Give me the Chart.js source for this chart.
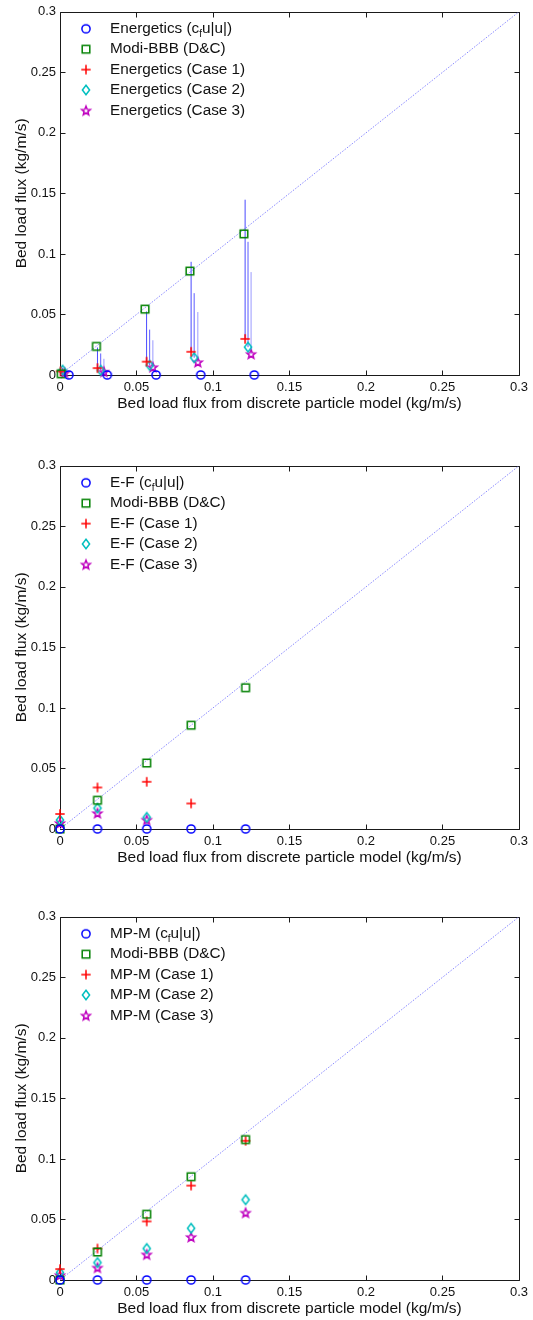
<!DOCTYPE html>
<html>
<head>
<meta charset="utf-8">
<script src="https://cdn.jsdelivr.net/npm/chart.js@4.4.1/dist/chart.umd.min.js"></script>
<style>
  body { margin: 0; background: #fff; }
  #wrap { position: relative; width: 533px; height: 1320px; }
  #wrap canvas { position: absolute; left: 0; }
</style>
</head>
<body>
<div id="wrap">
  <canvas id="chartEn" width="533" height="450" style="top:0px"></canvas>
  <canvas id="chartEf" width="533" height="450" style="top:454px"></canvas>
  <canvas id="chartMp" width="533" height="450" style="top:905px"></canvas>
</div>
<script>
// ---- data ----
const xTickLabels = ['0', '0.05', '0.1', '0.15', '0.2', '0.25', '0.3'];
const yTickLabels = ['0', '0.05', '0.1', '0.15', '0.2', '0.25', '0.3'];
const xTitle = 'Bed load flux from discrete particle model (kg/m/s)';
const yTitle = 'Bed load flux (kg/m/s)';
const diagX = [0, 0.3];

// panel 1: Energetics (markers shifted sideways, with error bars)
const enLabels = ['Energetics (c_fu|u|)', 'Modi-BBB (D&C)', 'Energetics (Case 1)', 'Energetics (Case 2)', 'Energetics (Case 3)'];
const enCircleX = [0.0058, 0.0309, 0.0628, 0.092, 0.127];
const enCircleY = [0, 0, 0, 0, 0];
const enSquareX = [0.0008, 0.0238, 0.0556, 0.0849, 0.1202];
const enSquareY = [0.001, 0.0236, 0.0544, 0.0858, 0.1166];
const enCase1X = [0.0003, 0.0245, 0.0566, 0.0857, 0.121];
const enCase1Y = [0.003, 0.0057, 0.011, 0.0192, 0.0298];
const enCase1Hi = [0.005, 0.0227, 0.0525, 0.0935, 0.1448];
const enCase2X = [0.0017, 0.0266, 0.0586, 0.0877, 0.1229];
const enCase2Y = [0.004, 0.0039, 0.008, 0.0143, 0.023];
const enCase2Hi = [0.006, 0.0178, 0.0375, 0.0676, 0.110];
const enCase3X = [0.003, 0.0287, 0.0607, 0.0901, 0.1249];
const enCase3Y = [0.002, 0.0028, 0.0066, 0.0107, 0.0175];
const enCase3Hi = [0.004, 0.0134, 0.0287, 0.052, 0.085];

// panels 2 and 3 share the DPM flux values
const dpmFlux = [0, 0.0245, 0.0567, 0.0857, 0.1213];

// panel 2: E-F
const efLabels = ['E-F (c_fu|u|)', 'Modi-BBB (D&C)', 'E-F (Case 1)', 'E-F (Case 2)', 'E-F (Case 3)'];
const efCircle = [0, 0, 0, 0, 0];
const efSquare = [0, 0.0237, 0.0545, 0.0857, 0.1167];
const efCase1 = [0.0124, 0.0343, 0.039, 0.0211];
const efCase2 = [0.0074, 0.0172, 0.0096];
const efCase3 = [0.005, 0.0132, 0.0077];

// panel 3: MP-M
const mpLabels = ['MP-M (c_fu|u|)', 'Modi-BBB (D&C)', 'MP-M (Case 1)', 'MP-M (Case 2)', 'MP-M (Case 3)'];
const mpCircle = [0, 0, 0, 0, 0];
const mpSquare = [0, 0.0231, 0.0543, 0.0853, 0.116];
const mpCase1 = [0.009, 0.026, 0.0484, 0.078, 0.115];
const mpCase2 = [0.0061, 0.0144, 0.026, 0.0427, 0.0663];
const mpCase3 = [0.0041, 0.0103, 0.0212, 0.0356, 0.0557];

const FONT = '"Liberation Sans", Arial, Helvetica, sans-serif';
Chart.defaults.font.family = FONT;
Chart.defaults.color = '#111';

// MATLAB-like marker glyphs drawn on small canvases
function makeMarker(kind, color) {
    const c = document.createElement('canvas');
    c.width = 16; c.height = 16;
    const g = c.getContext('2d');
    g.strokeStyle = color;
    g.lineWidth = 1.5;
    g.beginPath();
    if (kind === 'circle') {
        g.arc(8, 8, 4.1, 0, Math.PI * 2);
    } else if (kind === 'square') {
        g.rect(4.2, 4.2, 7.6, 7.6);
    } else if (kind === 'plus') {
        g.moveTo(3.3, 8); g.lineTo(12.7, 8);
        g.moveTo(8, 3.3); g.lineTo(8, 12.7);
    } else if (kind === 'diamond') {
        g.moveTo(8, 3.2); g.lineTo(11.6, 8); g.lineTo(8, 12.8); g.lineTo(4.4, 8); g.closePath();
    } else if (kind === 'star') {
        for (let i = 0; i < 10; i++) {
            const r = i % 2 === 0 ? 4.6 : 2;
            const a = -Math.PI / 2 + i * Math.PI / 5;
            const px = 8 + r * Math.cos(a), py = 8.5 + r * Math.sin(a);
            if (i === 0) g.moveTo(px, py); else g.lineTo(px, py);
        }
        g.closePath();
    }
    g.stroke();
    return c;
}

const markers = [
    makeMarker('circle', '#0000ff'),
    makeMarker('square', '#008000'),
    makeMarker('plus', '#ff0000'),
    makeMarker('diamond', '#00bfbf'),
    makeMarker('star', '#bf00bf')
];

function points(xs, ys) {
    return ys.map((v, i) => ({ x: xs[i], y: v }));
}

function errorBars(xs, lo, hi) {
    const out = [];
    xs.forEach((x, i) => {
        out.push({ x: x, y: lo[i] }, { x: x, y: hi[i] }, { x: x, y: null });
    });
    return out;
}

function markerSet(data, idx) {
    return {
        type: 'scatter',
        data: data,
        pointStyle: markers[idx],
        pointRadius: 5,
        showLine: false,
        clip: false,
        order: 1
    };
}

function barSet(data, color) {
    return {
        type: 'line',
        data: data,
        borderColor: color,
        borderWidth: 1,
        pointRadius: 0,
        spanGaps: false,
        clip: false,
        order: 2
    };
}

function diagonalSet() {
    return {
        type: 'line',
        data: points(diagX, diagX),
        borderColor: '#8a8aff',
        borderWidth: 1,
        borderDash: [1.5, 1.5],
        pointRadius: 0,
        order: 3
    };
}

// box round the axes with inward ticks on all four sides
const framePlugin = {
    id: 'frame',
    beforeDatasetsDraw(chart) {
        const { ctx, chartArea: a, scales } = chart;
        const L = Math.round(a.left) + 0.5, R = Math.round(a.right) + 0.5;
        const T = Math.round(a.top) + 0.5, B = Math.round(a.bottom) + 0.5;
        ctx.save();
        ctx.strokeStyle = '#1a1a1a';
        ctx.lineWidth = 1;
        ctx.beginPath();
        ctx.rect(L, T, R - L, B - T);
        scales.x.ticks.forEach(t => {
            const px = Math.round(scales.x.getPixelForValue(t.value)) + 0.5;
            ctx.moveTo(px, B); ctx.lineTo(px, B - 5);
            ctx.moveTo(px, T); ctx.lineTo(px, T + 5);
        });
        scales.y.ticks.forEach(t => {
            const py = Math.round(scales.y.getPixelForValue(t.value)) + 0.5;
            ctx.moveTo(L, py); ctx.lineTo(L + 5, py);
            ctx.moveTo(R, py); ctx.lineTo(R - 5, py);
        });
        ctx.stroke();
        ctx.restore();
    }
};

// legend inside the axes, with the subscript f in c_f
function legendPlugin(labels) {
    return {
        id: 'matLegend',
        afterDatasetsDraw(chart) {
            const { ctx, chartArea: a } = chart;
            ctx.save();
            ctx.fillStyle = '#111';
            ctx.textBaseline = 'middle';
            labels.forEach((text, i) => {
                const y = a.top + 17 + i * 20.4;
                const m = markers[i];
                ctx.drawImage(m, a.left + 26 - m.width / 2, y - m.height / 2);
                let x = a.left + 50;
                const k = text.indexOf('_');
                ctx.font = '15.3px ' + FONT;
                if (k < 0) {
                    ctx.fillText(text, x, y);
                    return;
                }
                const head = text.slice(0, k), sub = text[k + 1], tail = text.slice(k + 2);
                ctx.fillText(head, x, y);
                x += ctx.measureText(head).width;
                ctx.font = '10px ' + FONT;
                ctx.fillText(sub, x, y + 5);
                x += ctx.measureText(sub).width;
                ctx.font = '15.3px ' + FONT;
                ctx.fillText(tail, x, y);
            });
            ctx.restore();
        }
    };
}

function makeChart(id, datasets, labels) {
    new Chart(document.getElementById(id), {
        data: { datasets: datasets },
        options: {
            responsive: false,
            animation: false,
            events: [],
            layout: { padding: { top: 10, right: 10, left: 0, bottom: 0 } },
            plugins: { legend: { display: false }, tooltip: { enabled: false } },
            scales: {
                x: {
                    type: 'linear',
                    min: 0,
                    max: 0.3,
                    afterFit(s) { s.height = 75; },
                    grid: { display: false, drawTicks: false },
                    border: { display: false },
                    ticks: {
                        stepSize: 0.05,
                        padding: 5,
                        font: { size: 13 },
                        callback: (v, i) => xTickLabels[i]
                    },
                    title: { display: true, text: xTitle, font: { size: 15.5 }, padding: { top: 0, bottom: 37 } }
                },
                y: {
                    type: 'linear',
                    min: 0,
                    max: 0.3,
                    afterFit(s) { s.width = 60; },
                    grid: { display: false, drawTicks: false },
                    border: { display: false },
                    ticks: {
                        stepSize: 0.05,
                        padding: 4,
                        font: { size: 13 },
                        callback: (v, i) => yTickLabels[i]
                    },
                    title: { display: true, text: yTitle, font: { size: 15.5 }, padding: { top: 12, bottom: 0 } }
                }
            }
        },
        plugins: [framePlugin, legendPlugin(labels)]
    });
}

makeChart('chartEn', [
    markerSet(points(enCircleX, enCircleY), 0),
    markerSet(points(enSquareX, enSquareY), 1),
    markerSet(points(enCase1X, enCase1Y), 2),
    markerSet(points(enCase2X, enCase2Y), 3),
    markerSet(points(enCase3X, enCase3Y), 4),
    barSet(errorBars(enCase1X, enCase1Y, enCase1Hi), '#4a4aff'),
    barSet(errorBars(enCase2X, enCase2Y, enCase2Hi), '#5c5cff'),
    barSet(errorBars(enCase3X, enCase3Y, enCase3Hi), '#9a9aff'),
    diagonalSet()
], enLabels);

makeChart('chartEf', [
    markerSet(points(dpmFlux, efCircle), 0),
    markerSet(points(dpmFlux, efSquare), 1),
    markerSet(points(dpmFlux, efCase1), 2),
    markerSet(points(dpmFlux, efCase2), 3),
    markerSet(points(dpmFlux, efCase3), 4),
    diagonalSet()
], efLabels);

makeChart('chartMp', [
    markerSet(points(dpmFlux, mpCircle), 0),
    markerSet(points(dpmFlux, mpSquare), 1),
    markerSet(points(dpmFlux, mpCase1), 2),
    markerSet(points(dpmFlux, mpCase2), 3),
    markerSet(points(dpmFlux, mpCase3), 4),
    diagonalSet()
], mpLabels);
</script>
</body>
</html>
